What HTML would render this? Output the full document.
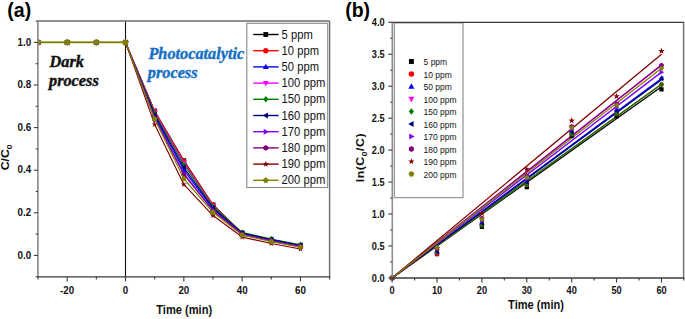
<!DOCTYPE html>
<html><head><meta charset="utf-8"><style>
html,body{margin:0;padding:0;background:#fff;}
body{width:685px;height:319px;overflow:hidden;font-family:"Liberation Sans", sans-serif;}
svg{display:block;}
</style></head><body>
<svg width="685" height="319" viewBox="0 0 685 319">
<rect width="685" height="319" fill="#fff"/>
<defs><clipPath id="ca"><rect x="37.9" y="21.5" width="291.70000000000005" height="255.3"/></clipPath><clipPath id="cb"><rect x="392.1" y="22.4" width="291.5" height="255.5"/></clipPath></defs>
<line x1="125.50" y1="21.5" x2="125.50" y2="276.8" stroke="#111" stroke-width="1.1"/>
<g clip-path="url(#ca)">
<polyline points="125.50,42.40 154.66,110.99 183.82,160.62 212.98,204.71 242.14,233.43 271.30,239.98 300.46,245.69" fill="none" stroke="#000000" stroke-width="1.15" stroke-linejoin="round"/>
<rect x="35.64" y="40.02" width="4.76" height="4.76" fill="#000000"/>
<rect x="64.80" y="40.02" width="4.76" height="4.76" fill="#000000"/>
<rect x="93.96" y="40.02" width="4.76" height="4.76" fill="#000000"/>
<rect x="123.12" y="40.02" width="4.76" height="4.76" fill="#000000"/>
<rect x="152.28" y="108.61" width="4.76" height="4.76" fill="#000000"/>
<rect x="181.44" y="158.24" width="4.76" height="4.76" fill="#000000"/>
<rect x="210.60" y="202.33" width="4.76" height="4.76" fill="#000000"/>
<rect x="239.76" y="231.05" width="4.76" height="4.76" fill="#000000"/>
<rect x="268.92" y="237.60" width="4.76" height="4.76" fill="#000000"/>
<rect x="298.08" y="243.31" width="4.76" height="4.76" fill="#000000"/>
<polyline points="125.50,42.40 154.66,111.39 183.82,161.33 212.98,205.03 242.14,233.43 271.30,239.98 300.46,245.69" fill="none" stroke="#ff0000" stroke-width="1.15" stroke-linejoin="round"/>
<circle cx="38.02" cy="42.40" r="2.66" fill="#ff0000"/>
<circle cx="67.18" cy="42.40" r="2.66" fill="#ff0000"/>
<circle cx="96.34" cy="42.40" r="2.66" fill="#ff0000"/>
<circle cx="125.50" cy="42.40" r="2.66" fill="#ff0000"/>
<circle cx="154.66" cy="111.39" r="2.66" fill="#ff0000"/>
<circle cx="183.82" cy="161.33" r="2.66" fill="#ff0000"/>
<circle cx="212.98" cy="205.03" r="2.66" fill="#ff0000"/>
<circle cx="242.14" cy="233.43" r="2.66" fill="#ff0000"/>
<circle cx="271.30" cy="239.98" r="2.66" fill="#ff0000"/>
<circle cx="300.46" cy="245.69" r="2.66" fill="#ff0000"/>
<polyline points="125.50,42.40 154.66,116.22 183.82,169.92 212.98,208.94 242.14,233.52 271.30,240.07 300.46,245.77" fill="none" stroke="#0000ff" stroke-width="1.15" stroke-linejoin="round"/>
<polygon points="38.02,39.32 40.96,44.50 35.08,44.50" fill="#0000ff"/>
<polygon points="67.18,39.32 70.12,44.50 64.24,44.50" fill="#0000ff"/>
<polygon points="96.34,39.32 99.28,44.50 93.40,44.50" fill="#0000ff"/>
<polygon points="125.50,39.32 128.44,44.50 122.56,44.50" fill="#0000ff"/>
<polygon points="154.66,113.14 157.60,118.32 151.72,118.32" fill="#0000ff"/>
<polygon points="183.82,166.84 186.76,172.02 180.88,172.02" fill="#0000ff"/>
<polygon points="212.98,205.86 215.92,211.04 210.04,211.04" fill="#0000ff"/>
<polygon points="242.14,230.44 245.08,235.62 239.20,235.62" fill="#0000ff"/>
<polygon points="271.30,236.99 274.24,242.17 268.36,242.17" fill="#0000ff"/>
<polygon points="300.46,242.69 303.40,247.87 297.52,247.87" fill="#0000ff"/>
<polyline points="125.50,42.40 154.66,112.33 183.82,163.00 212.98,205.79 242.14,234.50 271.30,241.01 300.46,246.67" fill="none" stroke="#ff00ff" stroke-width="1.15" stroke-linejoin="round"/>
<polygon points="38.02,45.48 40.96,40.30 35.08,40.30" fill="#ff00ff"/>
<polygon points="67.18,45.48 70.12,40.30 64.24,40.30" fill="#ff00ff"/>
<polygon points="96.34,45.48 99.28,40.30 93.40,40.30" fill="#ff00ff"/>
<polygon points="125.50,45.48 128.44,40.30 122.56,40.30" fill="#ff00ff"/>
<polygon points="154.66,115.41 157.60,110.23 151.72,110.23" fill="#ff00ff"/>
<polygon points="183.82,166.08 186.76,160.90 180.88,160.90" fill="#ff00ff"/>
<polygon points="212.98,208.87 215.92,203.69 210.04,203.69" fill="#ff00ff"/>
<polygon points="242.14,237.58 245.08,232.40 239.20,232.40" fill="#ff00ff"/>
<polygon points="271.30,244.09 274.24,238.91 268.36,238.91" fill="#ff00ff"/>
<polygon points="300.46,249.75 303.40,244.57 297.52,244.57" fill="#ff00ff"/>
<polyline points="125.50,42.40 154.66,113.27 183.82,164.67 212.98,206.55 242.14,232.40 271.30,239.00 300.46,244.75" fill="none" stroke="#008000" stroke-width="1.15" stroke-linejoin="round"/>
<polygon points="38.02,39.18 40.54,42.40 38.02,45.62 35.50,42.40" fill="#008000"/>
<polygon points="67.18,39.18 69.70,42.40 67.18,45.62 64.66,42.40" fill="#008000"/>
<polygon points="96.34,39.18 98.86,42.40 96.34,45.62 93.82,42.40" fill="#008000"/>
<polygon points="125.50,39.18 128.02,42.40 125.50,45.62 122.98,42.40" fill="#008000"/>
<polygon points="154.66,110.05 157.18,113.27 154.66,116.49 152.14,113.27" fill="#008000"/>
<polygon points="183.82,161.45 186.34,164.67 183.82,167.89 181.30,164.67" fill="#008000"/>
<polygon points="212.98,203.33 215.50,206.55 212.98,209.77 210.46,206.55" fill="#008000"/>
<polygon points="242.14,229.18 244.66,232.40 242.14,235.62 239.62,232.40" fill="#008000"/>
<polygon points="271.30,235.78 273.82,239.00 271.30,242.22 268.78,239.00" fill="#008000"/>
<polygon points="300.46,241.53 302.98,244.75 300.46,247.97 297.94,244.75" fill="#008000"/>
<polyline points="125.50,42.40 154.66,114.88 183.82,167.53 212.98,207.86 242.14,232.96 271.30,239.54 300.46,245.26" fill="none" stroke="#000080" stroke-width="1.15" stroke-linejoin="round"/>
<polygon points="34.94,42.40 40.12,39.46 40.12,45.34" fill="#000080"/>
<polygon points="64.10,42.40 69.28,39.46 69.28,45.34" fill="#000080"/>
<polygon points="93.26,42.40 98.44,39.46 98.44,45.34" fill="#000080"/>
<polygon points="122.42,42.40 127.60,39.46 127.60,45.34" fill="#000080"/>
<polygon points="151.58,114.88 156.76,111.94 156.76,117.82" fill="#000080"/>
<polygon points="180.74,167.53 185.92,164.59 185.92,170.47" fill="#000080"/>
<polygon points="209.90,207.86 215.08,204.92 215.08,210.80" fill="#000080"/>
<polygon points="239.06,232.96 244.24,230.02 244.24,235.90" fill="#000080"/>
<polygon points="268.22,239.54 273.40,236.60 273.40,242.48" fill="#000080"/>
<polygon points="297.38,245.26 302.56,242.32 302.56,248.20" fill="#000080"/>
<polyline points="125.50,42.40 154.66,117.96 183.82,173.02 212.98,210.35 242.14,234.27 271.30,240.79 300.46,246.45" fill="none" stroke="#8000ff" stroke-width="1.15" stroke-linejoin="round"/>
<polygon points="41.10,42.40 35.92,39.46 35.92,45.34" fill="#8000ff"/>
<polygon points="70.26,42.40 65.08,39.46 65.08,45.34" fill="#8000ff"/>
<polygon points="99.42,42.40 94.24,39.46 94.24,45.34" fill="#8000ff"/>
<polygon points="128.58,42.40 123.40,39.46 123.40,45.34" fill="#8000ff"/>
<polygon points="157.74,117.96 152.56,115.02 152.56,120.90" fill="#8000ff"/>
<polygon points="186.90,173.02 181.72,170.08 181.72,175.96" fill="#8000ff"/>
<polygon points="216.06,210.35 210.88,207.41 210.88,213.29" fill="#8000ff"/>
<polygon points="245.22,234.27 240.04,231.33 240.04,237.21" fill="#8000ff"/>
<polygon points="274.38,240.79 269.20,237.85 269.20,243.73" fill="#8000ff"/>
<polygon points="303.54,246.45 298.36,243.51 298.36,249.39" fill="#8000ff"/>
<polyline points="125.50,42.40 154.66,118.77 183.82,174.45 212.98,211.01 242.14,234.50 271.30,241.01 300.46,246.67" fill="none" stroke="#800080" stroke-width="1.15" stroke-linejoin="round"/>
<polygon points="38.02,45.20 35.60,43.80 35.60,41.00 38.02,39.60 40.44,41.00 40.44,43.80" fill="#800080"/>
<polygon points="67.18,45.20 64.76,43.80 64.76,41.00 67.18,39.60 69.60,41.00 69.60,43.80" fill="#800080"/>
<polygon points="96.34,45.20 93.92,43.80 93.92,41.00 96.34,39.60 98.76,41.00 98.76,43.80" fill="#800080"/>
<polygon points="125.50,45.20 123.08,43.80 123.08,41.00 125.50,39.60 127.92,41.00 127.92,43.80" fill="#800080"/>
<polygon points="154.66,121.57 152.24,120.17 152.24,117.37 154.66,115.97 157.08,117.37 157.08,120.17" fill="#800080"/>
<polygon points="183.82,177.25 181.40,175.85 181.40,173.05 183.82,171.65 186.24,173.05 186.24,175.85" fill="#800080"/>
<polygon points="212.98,213.81 210.56,212.41 210.56,209.61 212.98,208.21 215.40,209.61 215.40,212.41" fill="#800080"/>
<polygon points="242.14,237.30 239.72,235.90 239.72,233.10 242.14,231.70 244.56,233.10 244.56,235.90" fill="#800080"/>
<polygon points="271.30,243.81 268.88,242.41 268.88,239.61 271.30,238.21 273.72,239.61 273.72,242.41" fill="#800080"/>
<polygon points="300.46,249.47 298.04,248.07 298.04,245.27 300.46,243.87 302.88,245.27 302.88,248.07" fill="#800080"/>
<polyline points="125.50,42.40 154.66,124.41 183.82,184.47 212.98,215.57 242.14,237.08 271.30,243.47 300.46,249.01" fill="none" stroke="#800000" stroke-width="1.15" stroke-linejoin="round"/>
<polygon points="38.02,39.18 38.76,41.38 41.08,41.40 39.22,42.79 39.91,45.01 38.02,43.66 36.13,45.01 36.82,42.79 34.96,41.40 37.28,41.38" fill="#800000"/>
<polygon points="67.18,39.18 67.92,41.38 70.24,41.40 68.38,42.79 69.07,45.01 67.18,43.66 65.29,45.01 65.98,42.79 64.12,41.40 66.44,41.38" fill="#800000"/>
<polygon points="96.34,39.18 97.08,41.38 99.40,41.40 97.54,42.79 98.23,45.01 96.34,43.66 94.45,45.01 95.14,42.79 93.28,41.40 95.60,41.38" fill="#800000"/>
<polygon points="125.50,39.18 126.24,41.38 128.56,41.40 126.70,42.79 127.39,45.01 125.50,43.66 123.61,45.01 124.30,42.79 122.44,41.40 124.76,41.38" fill="#800000"/>
<polygon points="154.66,121.19 155.40,123.39 157.72,123.41 155.86,124.79 156.55,127.01 154.66,125.67 152.77,127.01 153.46,124.79 151.60,123.41 153.92,123.39" fill="#800000"/>
<polygon points="183.82,181.25 184.56,183.45 186.88,183.48 185.02,184.86 185.71,187.08 183.82,185.73 181.93,187.08 182.62,184.86 180.76,183.48 183.08,183.45" fill="#800000"/>
<polygon points="212.98,212.35 213.72,214.55 216.04,214.57 214.18,215.96 214.87,218.17 212.98,216.83 211.09,218.17 211.78,215.96 209.92,214.57 212.24,214.55" fill="#800000"/>
<polygon points="242.14,233.86 242.88,236.06 245.20,236.09 243.34,237.47 244.03,239.69 242.14,238.34 240.25,239.69 240.94,237.47 239.08,236.09 241.40,236.06" fill="#800000"/>
<polygon points="271.30,240.25 272.04,242.45 274.36,242.48 272.50,243.86 273.19,246.08 271.30,244.73 269.41,246.08 270.10,243.86 268.24,242.48 270.56,242.45" fill="#800000"/>
<polygon points="300.46,245.79 301.20,247.99 303.52,248.01 301.66,249.40 302.35,251.62 300.46,250.27 298.57,251.62 299.26,249.40 297.40,248.01 299.72,247.99" fill="#800000"/>
<polyline points="38.02,42.40 67.18,42.40 96.34,42.40 125.50,42.40 154.66,119.04 183.82,178.75 212.98,212.31 242.14,235.11 271.30,241.59 300.46,247.22" fill="none" stroke="#808000" stroke-width="1.15" stroke-linejoin="round"/>
<polygon points="38.02,39.46 40.82,41.49 39.75,44.78 36.29,44.78 35.22,41.49" fill="#808000"/>
<polygon points="67.18,39.46 69.98,41.49 68.91,44.78 65.45,44.78 64.38,41.49" fill="#808000"/>
<polygon points="96.34,39.46 99.14,41.49 98.07,44.78 94.61,44.78 93.54,41.49" fill="#808000"/>
<polygon points="125.50,39.46 128.30,41.49 127.23,44.78 123.77,44.78 122.70,41.49" fill="#808000"/>
<polygon points="154.66,116.10 157.46,118.13 156.39,121.42 152.93,121.42 151.86,118.13" fill="#808000"/>
<polygon points="183.82,175.81 186.62,177.84 185.55,181.12 182.09,181.12 181.02,177.84" fill="#808000"/>
<polygon points="212.98,209.37 215.78,211.40 214.71,214.69 211.25,214.69 210.18,211.40" fill="#808000"/>
<polygon points="242.14,232.17 244.94,234.21 243.87,237.49 240.41,237.49 239.34,234.21" fill="#808000"/>
<polygon points="271.30,238.65 274.10,240.68 273.03,243.97 269.57,243.97 268.50,240.68" fill="#808000"/>
<polygon points="300.46,244.28 303.26,246.31 302.19,249.60 298.73,249.60 297.66,246.31" fill="#808000"/>
<line x1="37.9" y1="42.40" x2="125.50" y2="42.40" stroke="#808000" stroke-width="1.7"/>
<polygon points="38.02,38.94 41.32,41.33 40.06,45.20 35.98,45.20 34.72,41.33" fill="#808000"/>
<polygon points="67.18,38.94 70.48,41.33 69.22,45.20 65.14,45.20 63.88,41.33" fill="#808000"/>
<polygon points="96.34,38.94 99.64,41.33 98.38,45.20 94.30,45.20 93.04,41.33" fill="#808000"/>
<polygon points="125.50,38.94 128.80,41.33 127.54,45.20 123.46,45.20 122.20,41.33" fill="#808000"/>
</g>
<line x1="37.9" y1="21.0" x2="329.6" y2="21.0" stroke="#6a6a6a" stroke-width="1.5"/>
<line x1="329.6" y1="21.0" x2="329.6" y2="276.8" stroke="#6a6a6a" stroke-width="1.4"/>
<line x1="37.9" y1="21.0" x2="37.9" y2="276.8" stroke="#8e8e8e" stroke-width="1.7"/>
<line x1="37.3" y1="276.8" x2="330.20000000000005" y2="276.8" stroke="#3a3a3a" stroke-width="1.3"/>
<line x1="35.70" y1="276.70" x2="37.90" y2="276.70" stroke="#3a3a3a" stroke-width="1.1"/>
<line x1="33.90" y1="255.40" x2="37.90" y2="255.40" stroke="#3a3a3a" stroke-width="1.1"/>
<text transform="translate(31.20,258.60) scale(0.85,1)" text-anchor="end" font-family='"Liberation Sans", sans-serif' font-size="11.5" font-weight="bold" font-style="normal" fill="#111" >0.0</text>
<line x1="35.70" y1="234.10" x2="37.90" y2="234.10" stroke="#3a3a3a" stroke-width="1.1"/>
<line x1="33.90" y1="212.80" x2="37.90" y2="212.80" stroke="#3a3a3a" stroke-width="1.1"/>
<text transform="translate(31.20,216.00) scale(0.85,1)" text-anchor="end" font-family='"Liberation Sans", sans-serif' font-size="11.5" font-weight="bold" font-style="normal" fill="#111" >0.2</text>
<line x1="35.70" y1="191.50" x2="37.90" y2="191.50" stroke="#3a3a3a" stroke-width="1.1"/>
<line x1="33.90" y1="170.20" x2="37.90" y2="170.20" stroke="#3a3a3a" stroke-width="1.1"/>
<text transform="translate(31.20,173.40) scale(0.85,1)" text-anchor="end" font-family='"Liberation Sans", sans-serif' font-size="11.5" font-weight="bold" font-style="normal" fill="#111" >0.4</text>
<line x1="35.70" y1="148.90" x2="37.90" y2="148.90" stroke="#3a3a3a" stroke-width="1.1"/>
<line x1="33.90" y1="127.60" x2="37.90" y2="127.60" stroke="#3a3a3a" stroke-width="1.1"/>
<text transform="translate(31.20,130.80) scale(0.85,1)" text-anchor="end" font-family='"Liberation Sans", sans-serif' font-size="11.5" font-weight="bold" font-style="normal" fill="#111" >0.6</text>
<line x1="35.70" y1="106.30" x2="37.90" y2="106.30" stroke="#3a3a3a" stroke-width="1.1"/>
<line x1="33.90" y1="85.00" x2="37.90" y2="85.00" stroke="#3a3a3a" stroke-width="1.1"/>
<text transform="translate(31.20,88.20) scale(0.85,1)" text-anchor="end" font-family='"Liberation Sans", sans-serif' font-size="11.5" font-weight="bold" font-style="normal" fill="#111" >0.8</text>
<line x1="35.70" y1="63.70" x2="37.90" y2="63.70" stroke="#3a3a3a" stroke-width="1.1"/>
<line x1="33.90" y1="42.40" x2="37.90" y2="42.40" stroke="#3a3a3a" stroke-width="1.1"/>
<text transform="translate(31.20,45.60) scale(0.85,1)" text-anchor="end" font-family='"Liberation Sans", sans-serif' font-size="11.5" font-weight="bold" font-style="normal" fill="#111" >1.0</text>
<line x1="35.70" y1="21.10" x2="37.90" y2="21.10" stroke="#3a3a3a" stroke-width="1.1"/>
<line x1="38.02" y1="276.80" x2="38.02" y2="279.40" stroke="#3a3a3a" stroke-width="1.1"/>
<line x1="67.18" y1="276.80" x2="67.18" y2="281.40" stroke="#3a3a3a" stroke-width="1.1"/>
<text transform="translate(67.18,293.70) scale(0.85,1)" text-anchor="middle" font-family='"Liberation Sans", sans-serif' font-size="11.5" font-weight="bold" font-style="normal" fill="#111" >-20</text>
<line x1="96.34" y1="276.80" x2="96.34" y2="279.40" stroke="#3a3a3a" stroke-width="1.1"/>
<line x1="125.50" y1="276.80" x2="125.50" y2="281.40" stroke="#3a3a3a" stroke-width="1.1"/>
<text transform="translate(125.50,293.70) scale(0.85,1)" text-anchor="middle" font-family='"Liberation Sans", sans-serif' font-size="11.5" font-weight="bold" font-style="normal" fill="#111" >0</text>
<line x1="154.66" y1="276.80" x2="154.66" y2="279.40" stroke="#3a3a3a" stroke-width="1.1"/>
<line x1="183.82" y1="276.80" x2="183.82" y2="281.40" stroke="#3a3a3a" stroke-width="1.1"/>
<text transform="translate(183.82,293.70) scale(0.85,1)" text-anchor="middle" font-family='"Liberation Sans", sans-serif' font-size="11.5" font-weight="bold" font-style="normal" fill="#111" >20</text>
<line x1="212.98" y1="276.80" x2="212.98" y2="279.40" stroke="#3a3a3a" stroke-width="1.1"/>
<line x1="242.14" y1="276.80" x2="242.14" y2="281.40" stroke="#3a3a3a" stroke-width="1.1"/>
<text transform="translate(242.14,293.70) scale(0.85,1)" text-anchor="middle" font-family='"Liberation Sans", sans-serif' font-size="11.5" font-weight="bold" font-style="normal" fill="#111" >40</text>
<line x1="271.30" y1="276.80" x2="271.30" y2="279.40" stroke="#3a3a3a" stroke-width="1.1"/>
<line x1="300.46" y1="276.80" x2="300.46" y2="281.40" stroke="#3a3a3a" stroke-width="1.1"/>
<text transform="translate(300.46,293.70) scale(0.85,1)" text-anchor="middle" font-family='"Liberation Sans", sans-serif' font-size="11.5" font-weight="bold" font-style="normal" fill="#111" >60</text>
<line x1="329.62" y1="276.80" x2="329.62" y2="279.40" stroke="#3a3a3a" stroke-width="1.1"/>
<text transform="translate(184.20,314.40) scale(0.925,1)" text-anchor="middle" font-family='"Liberation Sans", sans-serif' font-size="12" font-weight="bold" font-style="normal" fill="#111" >Time (min)</text>
<g transform="translate(9.4,170.3) rotate(-90) scale(1,0.84)"><text x="0" y="0" font-family='"Liberation Sans", sans-serif' font-size="12.3" font-weight="bold" fill="#111">C/C<tspan font-size="8.5" dy="3.5">0</tspan></text></g>
<text transform="translate(7.30,17.00) scale(1.0,1)" text-anchor="start" font-family='"Liberation Sans", sans-serif' font-size="19.5" font-weight="bold" font-style="normal" fill="#000" >(a)</text>
<text transform="translate(49.50,66.90) scale(1.0,1)" text-anchor="start" font-family='"Liberation Serif", serif' font-size="16.3" font-weight="bold" font-style="italic" fill="#111" stroke="#111" stroke-width="0.4">Dark</text>
<text transform="translate(49.00,86.10) scale(1.0,1)" text-anchor="start" font-family='"Liberation Serif", serif' font-size="16.3" font-weight="bold" font-style="italic" fill="#111" stroke="#111" stroke-width="0.4">process</text>
<text transform="translate(148.40,59.20) scale(1.0,1)" text-anchor="start" font-family='"Liberation Serif", serif' font-size="16.3" font-weight="bold" font-style="italic" fill="#1670c6" stroke="#1670c6" stroke-width="0.4">Photocatalytic</text>
<text transform="translate(147.80,78.30) scale(1.0,1)" text-anchor="start" font-family='"Liberation Serif", serif' font-size="16.3" font-weight="bold" font-style="italic" fill="#1670c6" stroke="#1670c6" stroke-width="0.4">process</text>
<rect x="246.8" y="23.3" width="80.90" height="164.20" fill="#fff" stroke="#8a8a8a" stroke-width="1.1"/>
<line x1="253.2" y1="34.50" x2="278.6" y2="34.50" stroke="#000000" stroke-width="1.4"/>
<rect x="263.38" y="32.08" width="4.84" height="4.84" fill="#000000"/>
<text transform="translate(281.60,38.60) scale(0.92,1)" text-anchor="start" font-family='"Liberation Sans", sans-serif' font-size="12.2" font-weight="normal" font-style="normal" fill="#111" >5 ppm</text>
<line x1="253.2" y1="50.70" x2="278.6" y2="50.70" stroke="#ff0000" stroke-width="1.4"/>
<circle cx="265.80" cy="50.70" r="2.71" fill="#ff0000"/>
<text transform="translate(281.60,54.80) scale(0.92,1)" text-anchor="start" font-family='"Liberation Sans", sans-serif' font-size="12.2" font-weight="normal" font-style="normal" fill="#111" >10 ppm</text>
<line x1="253.2" y1="66.90" x2="278.6" y2="66.90" stroke="#0000ff" stroke-width="1.4"/>
<polygon points="265.80,63.77 268.79,69.04 262.81,69.04" fill="#0000ff"/>
<text transform="translate(281.60,71.00) scale(0.92,1)" text-anchor="start" font-family='"Liberation Sans", sans-serif' font-size="12.2" font-weight="normal" font-style="normal" fill="#111" >50 ppm</text>
<line x1="253.2" y1="83.10" x2="278.6" y2="83.10" stroke="#ff00ff" stroke-width="1.4"/>
<polygon points="265.80,86.23 268.79,80.96 262.81,80.96" fill="#ff00ff"/>
<text transform="translate(281.60,87.20) scale(0.92,1)" text-anchor="start" font-family='"Liberation Sans", sans-serif' font-size="12.2" font-weight="normal" font-style="normal" fill="#111" >100 ppm</text>
<line x1="253.2" y1="99.30" x2="278.6" y2="99.30" stroke="#008000" stroke-width="1.4"/>
<polygon points="265.80,96.02 268.37,99.30 265.80,102.58 263.24,99.30" fill="#008000"/>
<text transform="translate(281.60,103.40) scale(0.92,1)" text-anchor="start" font-family='"Liberation Sans", sans-serif' font-size="12.2" font-weight="normal" font-style="normal" fill="#111" >150 ppm</text>
<line x1="253.2" y1="115.50" x2="278.6" y2="115.50" stroke="#000080" stroke-width="1.4"/>
<polygon points="262.67,115.50 267.94,112.51 267.94,118.49" fill="#000080"/>
<text transform="translate(281.60,119.60) scale(0.92,1)" text-anchor="start" font-family='"Liberation Sans", sans-serif' font-size="12.2" font-weight="normal" font-style="normal" fill="#111" >160 ppm</text>
<line x1="253.2" y1="131.70" x2="278.6" y2="131.70" stroke="#8000ff" stroke-width="1.4"/>
<polygon points="268.94,131.70 263.66,128.71 263.66,134.69" fill="#8000ff"/>
<text transform="translate(281.60,135.80) scale(0.92,1)" text-anchor="start" font-family='"Liberation Sans", sans-serif' font-size="12.2" font-weight="normal" font-style="normal" fill="#111" >170 ppm</text>
<line x1="253.2" y1="147.90" x2="278.6" y2="147.90" stroke="#800080" stroke-width="1.4"/>
<polygon points="265.80,150.75 263.33,149.32 263.33,146.47 265.80,145.05 268.27,146.47 268.27,149.32" fill="#800080"/>
<text transform="translate(281.60,152.00) scale(0.92,1)" text-anchor="start" font-family='"Liberation Sans", sans-serif' font-size="12.2" font-weight="normal" font-style="normal" fill="#111" >180 ppm</text>
<line x1="253.2" y1="164.10" x2="278.6" y2="164.10" stroke="#800000" stroke-width="1.4"/>
<polygon points="265.80,160.82 266.55,163.06 268.92,163.09 267.02,164.50 267.73,166.75 265.80,165.38 263.87,166.75 264.58,164.50 262.68,163.09 265.05,163.06" fill="#800000"/>
<text transform="translate(281.60,168.20) scale(0.92,1)" text-anchor="start" font-family='"Liberation Sans", sans-serif' font-size="12.2" font-weight="normal" font-style="normal" fill="#111" >190 ppm</text>
<line x1="253.2" y1="180.30" x2="278.6" y2="180.30" stroke="#808000" stroke-width="1.4"/>
<polygon points="265.80,177.31 268.65,179.38 267.56,182.72 264.04,182.72 262.95,179.38" fill="#808000"/>
<text transform="translate(281.60,184.40) scale(0.92,1)" text-anchor="start" font-family='"Liberation Sans", sans-serif' font-size="12.2" font-weight="normal" font-style="normal" fill="#111" >200 ppm</text>
<rect x="394.4" y="22.9" width="68.60" height="174.70" fill="#fff" stroke="#9a9a9a" stroke-width="1.3"/>
<g clip-path="url(#cb)">
<line x1="392.10" y1="277.90" x2="661.50" y2="86.84" stroke="#000000" stroke-width="1.3"/>
<line x1="392.10" y1="277.90" x2="661.50" y2="84.28" stroke="#ff0000" stroke-width="1.3"/>
<line x1="392.10" y1="277.90" x2="661.50" y2="78.53" stroke="#0000ff" stroke-width="1.3"/>
<line x1="392.10" y1="277.90" x2="661.50" y2="65.11" stroke="#ff00ff" stroke-width="1.3"/>
<line x1="392.10" y1="277.90" x2="661.50" y2="84.28" stroke="#008000" stroke-width="1.3"/>
<line x1="392.10" y1="277.90" x2="661.50" y2="79.81" stroke="#000080" stroke-width="1.3"/>
<line x1="392.10" y1="277.90" x2="661.50" y2="72.14" stroke="#8000ff" stroke-width="1.3"/>
<line x1="392.10" y1="277.90" x2="661.50" y2="65.11" stroke="#800080" stroke-width="1.3"/>
<line x1="392.10" y1="277.90" x2="661.50" y2="54.25" stroke="#800000" stroke-width="1.3"/>
<line x1="392.10" y1="277.90" x2="661.50" y2="68.31" stroke="#808000" stroke-width="1.3"/>
</g>
<rect x="389.98" y="275.77" width="4.25" height="4.25" fill="#000000"/>
<rect x="434.88" y="252.00" width="4.25" height="4.25" fill="#000000"/>
<rect x="479.78" y="224.65" width="4.25" height="4.25" fill="#000000"/>
<rect x="524.68" y="185.04" width="4.25" height="4.25" fill="#000000"/>
<rect x="569.58" y="133.92" width="4.25" height="4.25" fill="#000000"/>
<rect x="614.48" y="114.11" width="4.25" height="4.25" fill="#000000"/>
<rect x="659.38" y="87.27" width="4.25" height="4.25" fill="#000000"/>
<circle cx="392.10" cy="277.90" r="2.38" fill="#ff0000"/>
<circle cx="437.00" cy="253.59" r="2.38" fill="#ff0000"/>
<circle cx="481.90" cy="225.10" r="2.38" fill="#ff0000"/>
<circle cx="526.80" cy="184.93" r="2.38" fill="#ff0000"/>
<circle cx="571.70" cy="134.12" r="2.38" fill="#ff0000"/>
<circle cx="616.60" cy="113.76" r="2.38" fill="#ff0000"/>
<circle cx="661.50" cy="84.60" r="2.38" fill="#ff0000"/>
<polygon points="392.10,275.15 394.73,279.77 389.48,279.77" fill="#0000ff"/>
<polygon points="437.00,248.67 439.62,253.29 434.38,253.29" fill="#0000ff"/>
<polygon points="481.90,220.00 484.53,224.63 479.28,224.63" fill="#0000ff"/>
<polygon points="526.80,179.04 529.43,183.67 524.18,183.67" fill="#0000ff"/>
<polygon points="571.70,128.69 574.33,133.32 569.08,133.32" fill="#0000ff"/>
<polygon points="616.60,107.54 619.23,112.17 613.98,112.17" fill="#0000ff"/>
<polygon points="661.50,75.14 664.12,79.77 658.88,79.77" fill="#0000ff"/>
<polygon points="392.10,280.65 394.73,276.02 389.48,276.02" fill="#ff00ff"/>
<polygon points="437.00,252.14 439.62,247.51 434.38,247.51" fill="#ff00ff"/>
<polygon points="481.90,221.34 484.53,216.72 479.28,216.72" fill="#ff00ff"/>
<polygon points="526.80,179.00 529.43,174.37 524.18,174.37" fill="#ff00ff"/>
<polygon points="571.70,129.44 574.33,124.81 569.08,124.81" fill="#ff00ff"/>
<polygon points="616.60,106.90 619.23,102.27 613.98,102.27" fill="#ff00ff"/>
<polygon points="661.50,68.76 664.12,64.13 658.88,64.13" fill="#ff00ff"/>
<polygon points="392.10,275.02 394.35,277.90 392.10,280.77 389.85,277.90" fill="#008000"/>
<polygon points="437.00,249.56 439.25,252.44 437.00,255.31 434.75,252.44" fill="#008000"/>
<polygon points="481.90,222.16 484.15,225.04 481.90,227.91 479.65,225.04" fill="#008000"/>
<polygon points="526.80,181.96 529.05,184.84 526.80,187.71 524.55,184.84" fill="#008000"/>
<polygon points="571.70,131.17 573.95,134.05 571.70,136.92 569.45,134.05" fill="#008000"/>
<polygon points="616.60,110.78 618.85,113.66 616.60,116.53 614.35,113.66" fill="#008000"/>
<polygon points="661.50,81.54 663.75,84.41 661.50,87.29 659.25,84.41" fill="#008000"/>
<polygon points="389.35,277.90 393.98,275.27 393.98,280.52" fill="#000080"/>
<polygon points="434.25,251.56 438.88,248.93 438.88,254.18" fill="#000080"/>
<polygon points="479.15,223.02 483.78,220.40 483.78,225.65" fill="#000080"/>
<polygon points="524.05,182.15 528.68,179.53 528.68,184.78" fill="#000080"/>
<polygon points="568.95,131.75 573.58,129.12 573.58,134.37" fill="#000080"/>
<polygon points="613.85,110.69 618.48,108.06 618.48,113.31" fill="#000080"/>
<polygon points="658.75,78.66 663.38,76.03 663.38,81.28" fill="#000080"/>
<polygon points="394.85,277.90 390.23,275.27 390.23,280.52" fill="#8000ff"/>
<polygon points="439.75,249.39 435.12,246.76 435.12,252.01" fill="#8000ff"/>
<polygon points="484.65,220.74 480.03,218.12 480.03,223.37" fill="#8000ff"/>
<polygon points="529.55,179.11 524.93,176.49 524.93,181.74" fill="#8000ff"/>
<polygon points="574.45,129.14 569.83,126.52 569.83,131.77" fill="#8000ff"/>
<polygon points="619.35,107.32 614.73,104.69 614.73,109.94" fill="#8000ff"/>
<polygon points="664.25,72.14 659.62,69.52 659.62,74.77" fill="#8000ff"/>
<polygon points="392.10,280.40 389.93,279.15 389.93,276.65 392.10,275.40 394.27,276.65 394.27,279.15" fill="#800080"/>
<polygon points="437.00,251.21 434.83,249.96 434.83,247.46 437.00,246.21 439.17,247.46 439.17,249.96" fill="#800080"/>
<polygon points="481.90,220.83 479.73,219.58 479.73,217.08 481.90,215.83 484.07,217.08 484.07,219.58" fill="#800080"/>
<polygon points="526.80,178.39 524.63,177.14 524.63,174.64 526.80,173.39 528.97,174.64 528.97,177.14" fill="#800080"/>
<polygon points="571.70,128.88 569.53,127.63 569.53,125.13 571.70,123.88 573.87,125.13 573.87,127.63" fill="#800080"/>
<polygon points="616.60,106.25 614.43,105.00 614.43,102.50 616.60,101.25 618.77,102.50 618.77,105.00" fill="#800080"/>
<polygon points="661.50,67.74 659.33,66.49 659.33,63.99 661.50,62.74 663.67,63.99 663.67,66.49" fill="#800080"/>
<polygon points="392.10,275.02 392.76,276.99 394.83,277.01 393.17,278.25 393.79,280.23 392.10,279.02 390.41,280.23 391.03,278.25 389.37,277.01 391.44,276.99" fill="#800000"/>
<polygon points="437.00,244.72 437.79,247.08 440.28,247.10 438.28,248.59 439.03,250.96 437.00,249.52 434.97,250.96 435.72,248.59 433.72,247.10 436.21,247.08" fill="#800000"/>
<polygon points="481.90,209.91 482.69,212.27 485.18,212.29 483.18,213.78 483.93,216.15 481.90,214.71 479.87,216.15 480.62,213.78 478.62,212.29 481.11,212.27" fill="#800000"/>
<polygon points="526.80,165.82 527.59,168.18 530.08,168.20 528.08,169.69 528.83,172.06 526.80,170.62 524.77,172.06 525.52,169.69 523.52,168.20 526.01,168.18" fill="#800000"/>
<polygon points="571.70,117.26 572.49,119.61 574.98,119.64 572.98,121.12 573.73,123.50 571.70,122.06 569.67,123.50 570.42,121.12 568.42,119.64 570.91,119.61" fill="#800000"/>
<polygon points="616.60,92.97 617.39,95.33 619.88,95.36 617.88,96.84 618.63,99.22 616.60,97.77 614.57,99.22 615.32,96.84 613.32,95.36 615.81,95.33" fill="#800000"/>
<polygon points="661.50,47.61 662.29,49.96 664.78,49.99 662.78,51.47 663.53,53.85 661.50,52.41 659.47,53.85 660.22,51.47 658.22,49.99 660.71,49.96" fill="#800000"/>
<polygon points="392.10,275.27 394.60,277.09 393.64,280.02 390.56,280.02 389.60,277.09" fill="#808000"/>
<polygon points="437.00,245.07 439.50,246.88 438.54,249.82 435.46,249.82 434.50,246.88" fill="#808000"/>
<polygon points="481.90,216.77 484.40,218.59 483.44,221.52 480.36,221.52 479.40,218.59" fill="#808000"/>
<polygon points="526.80,174.70 529.30,176.51 528.34,179.45 525.26,179.45 524.30,176.51" fill="#808000"/>
<polygon points="571.70,124.98 574.20,126.80 573.24,129.73 570.16,129.73 569.20,126.80" fill="#808000"/>
<polygon points="616.60,102.71 619.10,104.53 618.14,107.46 615.06,107.46 614.10,104.53" fill="#808000"/>
<polygon points="661.50,65.68 664.00,67.50 663.04,70.43 659.96,70.43 659.00,67.50" fill="#808000"/>
<line x1="391.7" y1="22.4" x2="684.2" y2="22.4" stroke="#3a3a3a" stroke-width="1.3"/>
<line x1="683.6" y1="22.4" x2="683.6" y2="278.0" stroke="#727272" stroke-width="1.5"/>
<line x1="392.3" y1="22.4" x2="392.3" y2="278.0" stroke="#8e8e8e" stroke-width="1.6"/>
<line x1="391.7" y1="278.0" x2="684.2" y2="278.0" stroke="#3a3a3a" stroke-width="1.3"/>
<line x1="388.30" y1="277.90" x2="392.30" y2="277.90" stroke="#3a3a3a" stroke-width="1.1"/>
<text transform="translate(384.60,281.50) scale(0.8,1)" text-anchor="end" font-family='"Liberation Sans", sans-serif' font-size="11.5" font-weight="bold" font-style="normal" fill="#111" >0.0</text>
<line x1="390.30" y1="261.92" x2="392.30" y2="261.92" stroke="#3a3a3a" stroke-width="1.1"/>
<line x1="388.30" y1="245.95" x2="392.30" y2="245.95" stroke="#3a3a3a" stroke-width="1.1"/>
<text transform="translate(384.60,249.55) scale(0.8,1)" text-anchor="end" font-family='"Liberation Sans", sans-serif' font-size="11.5" font-weight="bold" font-style="normal" fill="#111" >0.5</text>
<line x1="390.30" y1="229.97" x2="392.30" y2="229.97" stroke="#3a3a3a" stroke-width="1.1"/>
<line x1="388.30" y1="214.00" x2="392.30" y2="214.00" stroke="#3a3a3a" stroke-width="1.1"/>
<text transform="translate(384.60,217.60) scale(0.8,1)" text-anchor="end" font-family='"Liberation Sans", sans-serif' font-size="11.5" font-weight="bold" font-style="normal" fill="#111" >1.0</text>
<line x1="390.30" y1="198.02" x2="392.30" y2="198.02" stroke="#3a3a3a" stroke-width="1.1"/>
<line x1="388.30" y1="182.05" x2="392.30" y2="182.05" stroke="#3a3a3a" stroke-width="1.1"/>
<text transform="translate(384.60,185.65) scale(0.8,1)" text-anchor="end" font-family='"Liberation Sans", sans-serif' font-size="11.5" font-weight="bold" font-style="normal" fill="#111" >1.5</text>
<line x1="390.30" y1="166.07" x2="392.30" y2="166.07" stroke="#3a3a3a" stroke-width="1.1"/>
<line x1="388.30" y1="150.10" x2="392.30" y2="150.10" stroke="#3a3a3a" stroke-width="1.1"/>
<text transform="translate(384.60,153.70) scale(0.8,1)" text-anchor="end" font-family='"Liberation Sans", sans-serif' font-size="11.5" font-weight="bold" font-style="normal" fill="#111" >2.0</text>
<line x1="390.30" y1="134.12" x2="392.30" y2="134.12" stroke="#3a3a3a" stroke-width="1.1"/>
<line x1="388.30" y1="118.15" x2="392.30" y2="118.15" stroke="#3a3a3a" stroke-width="1.1"/>
<text transform="translate(384.60,121.75) scale(0.8,1)" text-anchor="end" font-family='"Liberation Sans", sans-serif' font-size="11.5" font-weight="bold" font-style="normal" fill="#111" >2.5</text>
<line x1="390.30" y1="102.17" x2="392.30" y2="102.17" stroke="#3a3a3a" stroke-width="1.1"/>
<line x1="388.30" y1="86.20" x2="392.30" y2="86.20" stroke="#3a3a3a" stroke-width="1.1"/>
<text transform="translate(384.60,89.80) scale(0.8,1)" text-anchor="end" font-family='"Liberation Sans", sans-serif' font-size="11.5" font-weight="bold" font-style="normal" fill="#111" >3.0</text>
<line x1="390.30" y1="70.22" x2="392.30" y2="70.22" stroke="#3a3a3a" stroke-width="1.1"/>
<line x1="388.30" y1="54.25" x2="392.30" y2="54.25" stroke="#3a3a3a" stroke-width="1.1"/>
<text transform="translate(384.60,57.85) scale(0.8,1)" text-anchor="end" font-family='"Liberation Sans", sans-serif' font-size="11.5" font-weight="bold" font-style="normal" fill="#111" >3.5</text>
<line x1="390.30" y1="38.27" x2="392.30" y2="38.27" stroke="#3a3a3a" stroke-width="1.1"/>
<line x1="388.30" y1="22.30" x2="392.30" y2="22.30" stroke="#3a3a3a" stroke-width="1.1"/>
<text transform="translate(384.60,25.90) scale(0.8,1)" text-anchor="end" font-family='"Liberation Sans", sans-serif' font-size="11.5" font-weight="bold" font-style="normal" fill="#111" >4.0</text>
<line x1="392.10" y1="278.00" x2="392.10" y2="282.50" stroke="#3a3a3a" stroke-width="1.1"/>
<text transform="translate(392.10,294.20) scale(0.8,1)" text-anchor="middle" font-family='"Liberation Sans", sans-serif' font-size="11.5" font-weight="bold" font-style="normal" fill="#111" >0</text>
<line x1="414.55" y1="278.00" x2="414.55" y2="280.50" stroke="#3a3a3a" stroke-width="1.1"/>
<line x1="437.00" y1="278.00" x2="437.00" y2="282.50" stroke="#3a3a3a" stroke-width="1.1"/>
<text transform="translate(437.00,294.20) scale(0.8,1)" text-anchor="middle" font-family='"Liberation Sans", sans-serif' font-size="11.5" font-weight="bold" font-style="normal" fill="#111" >10</text>
<line x1="459.45" y1="278.00" x2="459.45" y2="280.50" stroke="#3a3a3a" stroke-width="1.1"/>
<line x1="481.90" y1="278.00" x2="481.90" y2="282.50" stroke="#3a3a3a" stroke-width="1.1"/>
<text transform="translate(481.90,294.20) scale(0.8,1)" text-anchor="middle" font-family='"Liberation Sans", sans-serif' font-size="11.5" font-weight="bold" font-style="normal" fill="#111" >20</text>
<line x1="504.35" y1="278.00" x2="504.35" y2="280.50" stroke="#3a3a3a" stroke-width="1.1"/>
<line x1="526.80" y1="278.00" x2="526.80" y2="282.50" stroke="#3a3a3a" stroke-width="1.1"/>
<text transform="translate(526.80,294.20) scale(0.8,1)" text-anchor="middle" font-family='"Liberation Sans", sans-serif' font-size="11.5" font-weight="bold" font-style="normal" fill="#111" >30</text>
<line x1="549.25" y1="278.00" x2="549.25" y2="280.50" stroke="#3a3a3a" stroke-width="1.1"/>
<line x1="571.70" y1="278.00" x2="571.70" y2="282.50" stroke="#3a3a3a" stroke-width="1.1"/>
<text transform="translate(571.70,294.20) scale(0.8,1)" text-anchor="middle" font-family='"Liberation Sans", sans-serif' font-size="11.5" font-weight="bold" font-style="normal" fill="#111" >40</text>
<line x1="594.15" y1="278.00" x2="594.15" y2="280.50" stroke="#3a3a3a" stroke-width="1.1"/>
<line x1="616.60" y1="278.00" x2="616.60" y2="282.50" stroke="#3a3a3a" stroke-width="1.1"/>
<text transform="translate(616.60,294.20) scale(0.8,1)" text-anchor="middle" font-family='"Liberation Sans", sans-serif' font-size="11.5" font-weight="bold" font-style="normal" fill="#111" >50</text>
<line x1="639.05" y1="278.00" x2="639.05" y2="280.50" stroke="#3a3a3a" stroke-width="1.1"/>
<line x1="661.50" y1="278.00" x2="661.50" y2="282.50" stroke="#3a3a3a" stroke-width="1.1"/>
<text transform="translate(661.50,294.20) scale(0.8,1)" text-anchor="middle" font-family='"Liberation Sans", sans-serif' font-size="11.5" font-weight="bold" font-style="normal" fill="#111" >60</text>
<line x1="683.95" y1="278.00" x2="683.95" y2="280.50" stroke="#3a3a3a" stroke-width="1.1"/>
<text transform="translate(536.00,308.80) scale(0.925,1)" text-anchor="middle" font-family='"Liberation Sans", sans-serif' font-size="12" font-weight="bold" font-style="normal" fill="#111" >Time (min)</text>
<g transform="translate(364.3,182.3) rotate(-90) scale(1,0.84)"><text x="0" y="0" font-family='"Liberation Sans", sans-serif' font-size="12.3" font-weight="bold" fill="#111" letter-spacing="0.55">ln(C<tspan font-size="8.5" dy="3.5">0</tspan><tspan dy="-3.5">/C)</tspan></text></g>
<text transform="translate(345.20,17.00) scale(1.0,1)" text-anchor="start" font-family='"Liberation Sans", sans-serif' font-size="19.5" font-weight="bold" font-style="normal" fill="#000" >(b)</text>
<rect x="408.94" y="59.03" width="4.93" height="4.93" fill="#000000"/>
<text transform="translate(423.60,65.10) scale(0.94,1)" text-anchor="start" font-family='"Liberation Sans", sans-serif' font-size="9" font-weight="normal" font-style="normal" fill="#111" >5 ppm</text>
<circle cx="411.40" cy="74.00" r="2.75" fill="#ff0000"/>
<text transform="translate(423.60,77.60) scale(0.94,1)" text-anchor="start" font-family='"Liberation Sans", sans-serif' font-size="9" font-weight="normal" font-style="normal" fill="#111" >10 ppm</text>
<polygon points="411.40,83.31 414.44,88.67 408.35,88.67" fill="#0000ff"/>
<text transform="translate(423.60,90.10) scale(0.94,1)" text-anchor="start" font-family='"Liberation Sans", sans-serif' font-size="9" font-weight="normal" font-style="normal" fill="#111" >50 ppm</text>
<polygon points="411.40,102.19 414.44,96.83 408.35,96.83" fill="#ff00ff"/>
<text transform="translate(423.60,102.60) scale(0.94,1)" text-anchor="start" font-family='"Liberation Sans", sans-serif' font-size="9" font-weight="normal" font-style="normal" fill="#111" >100 ppm</text>
<polygon points="411.40,108.17 414.01,111.50 411.40,114.83 408.79,111.50" fill="#008000"/>
<text transform="translate(423.60,115.10) scale(0.94,1)" text-anchor="start" font-family='"Liberation Sans", sans-serif' font-size="9" font-weight="normal" font-style="normal" fill="#111" >150 ppm</text>
<polygon points="408.21,124.00 413.57,120.95 413.57,127.05" fill="#000080"/>
<text transform="translate(423.60,127.60) scale(0.94,1)" text-anchor="start" font-family='"Liberation Sans", sans-serif' font-size="9" font-weight="normal" font-style="normal" fill="#111" >160 ppm</text>
<polygon points="414.59,136.50 409.22,133.46 409.22,139.54" fill="#8000ff"/>
<text transform="translate(423.60,140.10) scale(0.94,1)" text-anchor="start" font-family='"Liberation Sans", sans-serif' font-size="9" font-weight="normal" font-style="normal" fill="#111" >170 ppm</text>
<polygon points="411.40,151.90 408.89,150.45 408.89,147.55 411.40,146.10 413.91,147.55 413.91,150.45" fill="#800080"/>
<text transform="translate(423.60,152.60) scale(0.94,1)" text-anchor="start" font-family='"Liberation Sans", sans-serif' font-size="9" font-weight="normal" font-style="normal" fill="#111" >180 ppm</text>
<polygon points="411.40,158.16 412.17,160.44 414.57,160.47 412.64,161.90 413.36,164.20 411.40,162.81 409.44,164.20 410.16,161.90 408.23,160.47 410.63,160.44" fill="#800000"/>
<text transform="translate(423.60,165.10) scale(0.94,1)" text-anchor="start" font-family='"Liberation Sans", sans-serif' font-size="9" font-weight="normal" font-style="normal" fill="#111" >190 ppm</text>
<polygon points="411.40,170.96 414.30,173.06 413.19,176.46 409.61,176.46 408.50,173.06" fill="#808000"/>
<text transform="translate(423.60,177.60) scale(0.94,1)" text-anchor="start" font-family='"Liberation Sans", sans-serif' font-size="9" font-weight="normal" font-style="normal" fill="#111" >200 ppm</text>
</svg>
</body></html>
